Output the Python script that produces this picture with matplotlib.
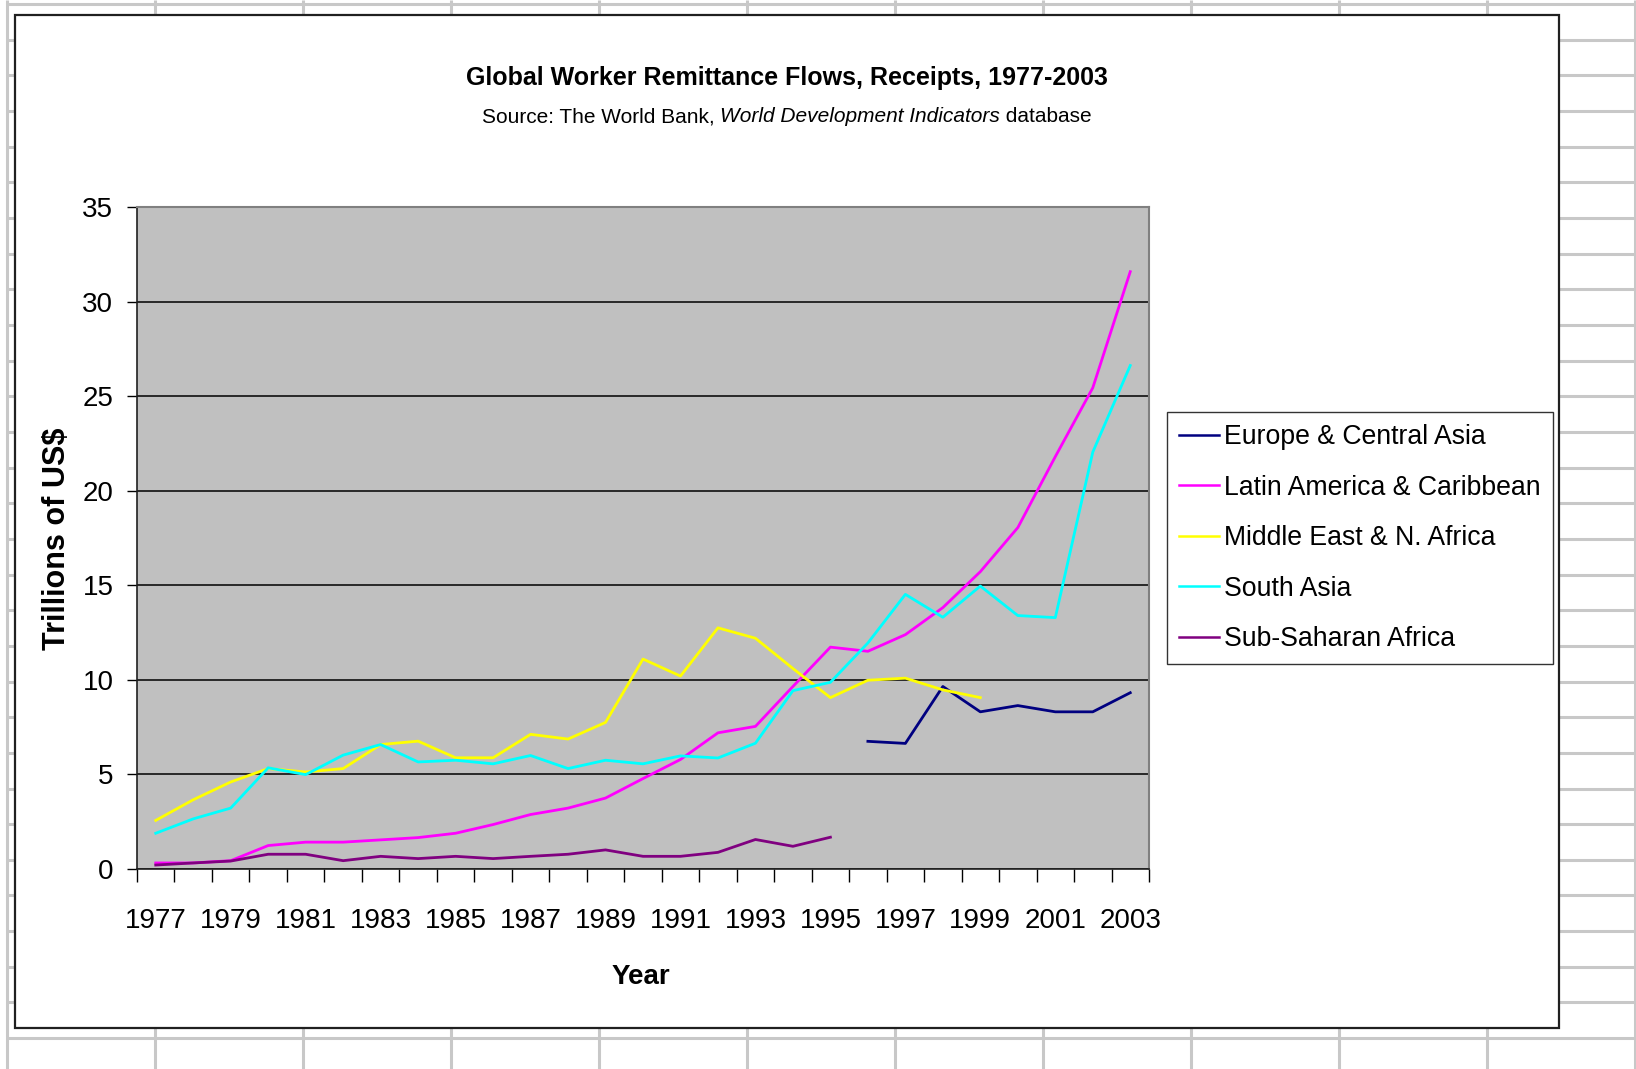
import numpy as np
import matplotlib

matplotlib.use("Agg")
import matplotlib.pyplot as plt
from matplotlib.patches import Rectangle

plt.rcParams["font.family"] = ["Liberation Sans Narrow", "Liberation Sans", "DejaVu Sans"]

W, H = 1636, 1069
nan = np.nan

years = list(range(1977, 2004))

europe_central_asia = [nan] * 19 + [6.75, 6.64, 9.65, 8.31, 8.64, 8.31, 8.31, 9.32]
latin_america = [
    0.32, 0.32, 0.44, 1.24, 1.42, 1.42, 1.54, 1.66, 1.89, 2.35,
    2.88, 3.22, 3.75, 4.78, 5.79, 7.2, 7.54, 9.65, 11.73, 11.51,
    12.39, 13.82, 15.72, 18.05, 21.8, 25.44, 31.58,
]
middle_east = [
    2.57, 3.66, 4.6, 5.31, 5.13, 5.31, 6.58, 6.76, 5.88, 5.88,
    7.12, 6.87, 7.75, 11.1, 10.2, 12.75, 12.2, 10.6, 9.06, 9.98,
    10.09, 9.47, 9.06, nan, nan, nan, nan,
]
south_asia = [
    1.89, 2.65, 3.22, 5.35, 4.99, 6.02, 6.58, 5.66, 5.75, 5.56,
    6.0, 5.31, 5.75, 5.56, 5.98, 5.87, 6.65, 9.43, 9.87, 11.95,
    14.52, 13.31, 14.96, 13.4, 13.29, 22.04, 26.62,
]
sub_saharan = [
    0.21, 0.32, 0.42, 0.78, 0.78, 0.44, 0.67, 0.55, 0.67, 0.55,
    0.67, 0.78, 1.01, 0.67, 0.67, 0.88, 1.56, 1.2, 1.68,
] + [nan] * 8

series = [
    ("Europe & Central Asia", europe_central_asia, "#000080"),
    ("Latin America & Caribbean", latin_america, "#FF00FF"),
    ("Middle East & N. Africa", middle_east, "#FFFF00"),
    ("South Asia", south_asia, "#00FFFF"),
    ("Sub-Saharan Africa", sub_saharan, "#800080"),
]

fig = plt.figure(figsize=(W / 100, H / 100), dpi=100)

# spreadsheet backdrop
bg = fig.add_axes([0, 0, 1, 1], zorder=-5)
bg.set_xlim(0, W)
bg.set_ylim(H, 0)
bg.axis("off")
for k in range(30):
    y = 4 + k * 35.66
    bg.plot([7, W], [y, y], color="#C8C8C8", lw=2.2, solid_capstyle="butt")
for k in range(12):
    x = 7 + k * 148
    bg.plot([x, x], [0, H], color="#C8C8C8", lw=2.2, solid_capstyle="butt")
bg.add_patch(Rectangle((15, 15), 1544, 1013, facecolor="white",
                       edgecolor="#202020", lw=1.6, zorder=5))

# plot area
ax = fig.add_axes([137 / W, 1 - 869 / H, (1149 - 137) / W, (869 - 207) / H], zorder=2)
ax.set_facecolor("#C0C0C0")
x = np.arange(len(years))
for name, vals, color in series:
    ax.plot(x, vals, color=color, lw=2.0, label=name, zorder=3)

ax.set_xlim(-0.5, len(years) - 0.5)
ax.set_ylim(0, 35)
ax.set_yticks(np.arange(0, 36, 5))
ax.yaxis.grid(True, color="black", lw=1.1)
ax.set_axisbelow(True)
ax.tick_params(axis="y", labelsize=20, length=7, width=1, direction="out", pad=10)

ax.set_xticks(np.arange(-0.5, len(years), 1.0))
ax.set_xticklabels([])
ax.tick_params(axis="x", which="major", length=9, width=1, direction="out")
ax.set_xticks(x[::2], minor=True)
ax.set_xticklabels([str(y) for y in years[::2]], minor=True)
ax.tick_params(axis="x", which="minor", length=0, labelsize=20, pad=28)

for side in ("top", "right"):
    ax.spines[side].set_color("#808080")
    ax.spines[side].set_linewidth(1.5)
for side in ("left", "bottom"):
    ax.spines[side].set_color("#202020")
    ax.spines[side].set_linewidth(1.2)

leg = ax.legend(loc="upper left", bbox_to_anchor=(1167 / W, 1 - 412 / H),
                bbox_transform=fig.transFigure, fontsize=19.2, frameon=True,
                fancybox=False, edgecolor="black", handlelength=1.5,
                handletextpad=0.2, labelspacing=0.92, borderpad=0.45,
                borderaxespad=0)
leg.get_frame().set_linewidth(1.0)
for line in leg.get_lines():
    line.set_linewidth(1.8)

fig.text(787 / W, 1 - 78 / H, "Global Worker Remittance Flows, Receipts, 1977-2003",
         ha="center", va="center", fontsize=18, fontweight="bold")

# subtitle with an italic part
parts = [("Source: The World Bank, ", "normal"),
         ("World Development Indicators", "italic"),
         (" database", "normal")]
texts = [fig.text(0, 1 - 117 / H, s, fontsize=15, style=st, va="center")
         for s, st in parts]
renderer = fig.canvas.get_renderer()
widths = [t.get_window_extent(renderer).width for t in texts]
left = 787 - sum(widths) / 2
for t, w in zip(texts, widths):
    t.set_x(left / W)
    left += w

fig.text(57 / W, 1 - 539 / H, "Trillions of US\\$", rotation=90, ha="center",
         va="center", fontsize=22, fontweight="bold")
fig.text(641 / W, 1 - 977 / H, "Year", ha="center", va="center",
         fontsize=20, fontweight="bold")

fig.savefig("out.png", dpi=100)
